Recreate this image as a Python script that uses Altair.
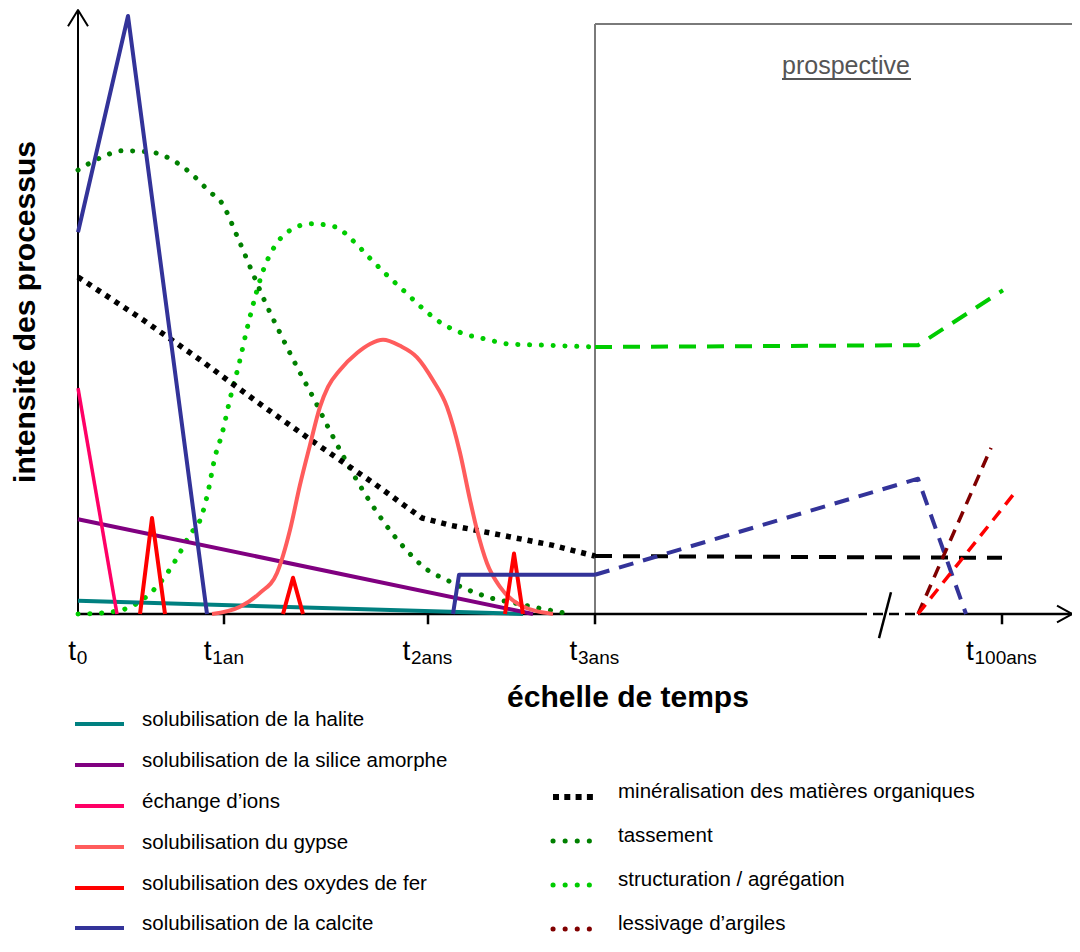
import altair as alt
import pandas as pd

# ---------------- data (x: time units, t0 = 0 ; y: process intensity 0-100) ----------------
tick_pos = [146, 350, 517, 924]
label_pos = [0, 146, 350, 517, 924]
label_sub = ["0", "1an", "2ans", "3ans", "100ans"]

halite_x = [0, 445]
halite_y = [2.2, 0]
silice_x = [0, 455]
silice_y = [15.7, 0]
ions_x = [0, 39]
ions_y = [37.4, 0]
gypse_x = [134, 162, 182, 199, 212, 222, 232, 242, 250, 262, 279, 292, 305, 322, 339, 355, 369, 382, 392, 399, 409, 422, 442, 475]
gypse_y = [0, 1.2, 3.5, 6.8, 13.9, 21.4, 28.0, 34.3, 37.6, 40.4, 43.2, 44.7, 45.4, 44.4, 42.5, 38.7, 34.3, 26.7, 18.9, 13.9, 8.4, 4.5, 1.5, 0]
fer_x = [62, 74, 87, 205, 215, 225, 427, 436, 445]
fer_y = [0, 15.9, 0, 0, 6.0, 0, 0, 10.0, 0]
fer_seg = [1, 1, 1, 2, 2, 2, 3, 3, 3]
calcite_x = [0, 50, 129, 375, 381, 517]
calcite_y = [63.2, 99.0, 0, 0, 6.5, 6.5]
calcite_seg = [1, 1, 1, 2, 2, 2]
mineral_x = [0, 65, 122, 180, 239, 297, 327, 344, 372, 422, 474, 517]
mineral_y = [55.8, 48.7, 42.1, 35.0, 28.1, 21.5, 17.9, 15.9, 14.7, 13.1, 11.4, 9.6]
tass_x = [0, 22, 45, 72, 94, 114, 131, 144, 159, 173, 187, 203, 219, 236, 252, 269, 287, 300, 314, 330, 347, 369, 390, 414, 437, 460, 486]
tass_y = [73.5, 75.5, 76.7, 76.5, 75.2, 72.8, 70.0, 68.0, 62.6, 57.1, 51.7, 46.2, 40.9, 35.6, 30.3, 25.0, 19.9, 16.6, 13.4, 10.3, 7.6, 5.6, 4.0, 2.6, 1.8, 1.0, 0.2]
struct_x = [0, 25, 50, 70, 86, 99, 111, 124, 130, 137, 144, 152, 161, 169, 178, 185, 195, 211, 233, 257, 275, 292, 309, 326, 344, 363, 384, 408, 431, 467, 517]
struct_y = [0, 0.2, 1.0, 3.1, 6.0, 9.3, 12.9, 16.4, 20.2, 26.0, 29.8, 35.6, 41.4, 47.2, 53.0, 56.8, 60.4, 63.4, 64.6, 64.1, 61.8, 58.9, 56.1, 53.5, 50.7, 48.2, 46.5, 45.5, 44.7, 44.5, 44.2]
# prospective part
mineral_p_x = [517, 924]
mineral_p_y = [9.6, 9.3]
struct_p_x = [517, 840, 925]
struct_p_y = [44.2, 44.5, 53.6]
calcite_p_x = [517, 840, 888]
calcite_p_y = [6.5, 22.4, 0]
argiles_p_x = [840, 913]
argiles_p_y = [0, 27.5]
fer_p_x = [840, 935]
fer_p_y = [0, 19.7]

left_labels = ["solubilisation de la halite", "solubilisation de la silice amorphe", "échange d’ions",
               "solubilisation du gypse", "solubilisation des oxydes de fer", "solubilisation de la calcite"]
left_colors = ["#008080", "#800080", "#ff0066", "#ff5c5c", "#ff0000", "#333399"]
right_labels = ["minéralisation des matières organiques", "tassement", "structuration / agrégation", "lessivage d’argiles"]
right_colors = ["#000000", "#008000", "#00cc00", "#800000"]

# ---------------- helpers ----------------
XMAX = 994
W, H = XMAX, 604
XS = alt.Scale(domain=[0, XMAX], nice=False, zero=False)
YS = alt.Scale(domain=[0, 100], nice=False, zero=False)
FONT = "Liberation Sans"


def line(xv, yv, color, width=4.0, dash=None, cap="butt", interp="linear", seg=None):
    d = pd.DataFrame({"x": xv, "y": yv})
    d["i"] = range(len(d))
    d["seg"] = seg if seg is not None else 0
    kw = dict(color=color, strokeWidth=width, strokeCap=cap, strokeJoin="round",
              interpolate=interp, clip=False)
    if dash:
        kw["strokeDash"] = dash
    return alt.Chart(d).mark_line(**kw).encode(
        x=alt.X("x:Q", scale=XS, axis=None),
        y=alt.Y("y:Q", scale=YS, axis=None),
        detail="seg:N",
        order="i:Q",
    )


def rule(x1, x2, y1, y2, color="black", width=2.5, dash=None, cap="butt"):
    d = pd.DataFrame({"x": [x1], "x2": [x2], "y": [y1], "y2": [y2]})
    kw = dict(color=color, strokeWidth=width, strokeCap=cap, clip=False)
    if dash:
        kw["strokeDash"] = dash
    return alt.Chart(d).mark_rule(**kw).encode(
        x=alt.X("x:Q", scale=XS, axis=None), x2="x2:Q",
        y=alt.Y("y:Q", scale=YS, axis=None), y2="y2:Q")


def px_text(df, **kw):
    return alt.Chart(df).mark_text(**kw).encode(
        x=alt.X("px:Q", scale=None, axis=None),
        y=alt.Y("py:Q", scale=None, axis=None),
        text="label:N")


def px_rule(df, **kw):
    return alt.Chart(df).mark_rule(**kw).encode(
        x=alt.X("px:Q", scale=None, axis=None), x2="px2:Q",
        y=alt.Y("py:Q", scale=None, axis=None))


layers = []

# prospective frame
layers.append(rule(517, 517, 0, 97.7, color="#7a7a7a", width=2))
layers.append(rule(517, XMAX, 97.7, 97.7, color="#7a7a7a", width=2))
layers.append(px_text(pd.DataFrame({"px": [768], "py": [64], "label": ["prospective"]}),
                      font=FONT, fontSize=25, color="#555555", align="center", baseline="alphabetic"))
layers.append(px_rule(pd.DataFrame({"px": [704], "px2": [833], "py": [69]}), color="#555555", strokeWidth=2))

# axes
layers.append(rule(0, 0, 0, 100, width=2))
layers.append(line([-10, 0, 10], [97.3, 100, 97.3], "black", width=2))
layers.append(rule(0, 779, 0, 0, width=2.5))
layers.append(rule(779, 840, 0, 0, width=2.5, dash=[10, 6]))
layers.append(rule(840, XMAX, 0, 0, width=2.5))
layers.append(line([XMAX - 15, XMAX, XMAX - 15], [1.4, 0, -1.4], "black", width=2))
layers.append(line([801, 813], [-4.0, 3.6], "black", width=2.5))
for tp in tick_pos:
    layers.append(rule(tp, tp, 0, -1.7, width=2.5))

# tick labels: "t" + subscript
t_x, s_x = [], []
for p, s in zip(label_pos, label_sub):
    w = 9 + 10.5 * len(s)
    t_x.append(p - w / 2)
    s_x.append(p - w / 2 + 8.5)
tdf = pd.DataFrame({"x": t_x, "y": [-7.6] * len(t_x), "label": ["t"] * len(t_x)})
sdf = pd.DataFrame({"x": s_x, "y": [-8.2] * len(s_x), "label": label_sub})
for d, fs in ((tdf, 28), (sdf, 19)):
    layers.append(alt.Chart(d).mark_text(font=FONT, fontSize=fs, align="left", baseline="alphabetic",
                                         color="black", clip=False).encode(
        x=alt.X("x:Q", scale=XS, axis=None), y=alt.Y("y:Q", scale=YS, axis=None), text="label:N"))

# axis titles
layers.append(px_text(pd.DataFrame({"px": [550], "py": [697], "label": ["échelle de temps"]}),
                      font=FONT, fontSize=30, fontWeight="bold", align="center", baseline="alphabetic"))
layers.append(px_text(pd.DataFrame({"px": [-43], "py": [302], "label": ["intensité des processus"]}),
                      font=FONT, fontSize=30, fontWeight="bold", align="center", baseline="alphabetic", angle=270))

# process curves
DOT = dict(width=5, dash=[0.1, 11.7], cap="round", interp="monotone")
layers.append(line(struct_x, struct_y, "#00cc00", **DOT))
layers.append(line(tass_x, tass_y, "#008000", **DOT))
layers.append(line(mineral_x, mineral_y, "black", width=5.5, dash=[5, 6]))
layers.append(line(halite_x, halite_y, "#008080", width=4))
layers.append(line(silice_x, silice_y, "#800080", width=4))
layers.append(line(ions_x, ions_y, "#ff0066", width=3.5))
layers.append(line(gypse_x, gypse_y, "#ff5c5c", width=4, interp="monotone"))
layers.append(line(fer_x, fer_y, "#ff0000", width=4, seg=fer_seg))
layers.append(line(calcite_x, calcite_y, "#333399", width=4, seg=calcite_seg))
# prospective dashed
layers.append(line(mineral_p_x, mineral_p_y, "black", width=4, dash=[17, 11]))
layers.append(line(struct_p_x, struct_p_y, "#00cc00", width=4, dash=[17, 11]))
layers.append(line(calcite_p_x, calcite_p_y, "#333399", width=4, dash=[15, 10]))
layers.append(line(argiles_p_x, argiles_p_y, "#800000", width=3.5, dash=[12, 8]))
layers.append(line(fer_p_x, fer_p_y, "#ff0000", width=3.5, dash=[12, 8]))

# legend (left column)
ly = [714 + 41 * i for i in range(len(left_labels))]
ly[-1] -= 1
for yv, c in zip(ly, left_colors):
    layers.append(px_rule(pd.DataFrame({"px": [-3], "px2": [46], "py": [yv]}), color=c, strokeWidth=4))
layers.append(px_text(pd.DataFrame({"px": [64] * len(ly), "py": [v + 2 for v in ly], "label": left_labels}),
                      font=FONT, fontSize=20.5, align="left", baseline="alphabetic", color="black"))

# legend (right column)
ry = [788 + 44 * i for i in range(len(right_labels))]
for i, (yv, c) in enumerate(zip(ry, right_colors)):
    if i == 0:
        layers.append(px_rule(pd.DataFrame({"px": [475], "px2": [516], "py": [yv - 1]}),
                              color=c, strokeWidth=6, strokeDash=[6, 5.3]))
    else:
        layers.append(px_rule(pd.DataFrame({"px": [475], "px2": [512], "py": [yv - 1]}),
                              color=c, strokeWidth=5, strokeDash=[0.1, 12], strokeCap="round"))
layers.append(px_text(pd.DataFrame({"px": [540] * len(ry), "py": ry, "label": right_labels}),
                      font=FONT, fontSize=20.5, align="left", baseline="alphabetic", color="black"))

chart = alt.layer(*layers).properties(
    width=W, height=H,
    autosize=alt.AutoSizeParams(type="none"),
    padding={"left": 70, "top": 2, "right": 0, "bottom": 322},
).configure_view(stroke=None)

chart.save("out.html", embed_options={"renderer": "svg", "actions": False})
